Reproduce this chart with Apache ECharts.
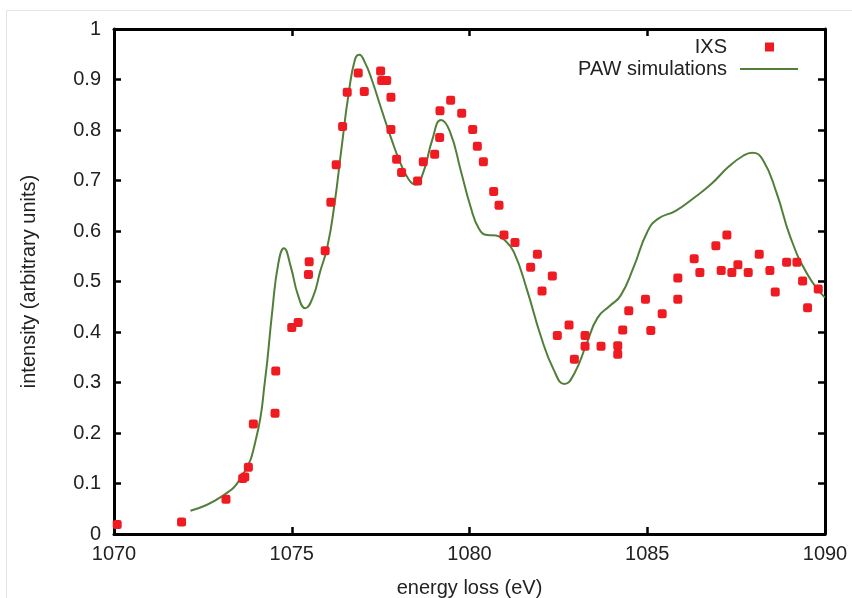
<!DOCTYPE html>
<html>
<head>
<meta charset="utf-8">
<script src="https://cdn.jsdelivr.net/npm/echarts@6/dist/echarts.min.js"></script>
<style>
  html, body { margin: 0; padding: 0; background: #fff; }
  #main { width: 852px; height: 598px; }
</style>
</head>
<body>
<div id="main"></div>
<script>
// measured IXS points (energy loss in eV, intensity)
var ixsEnergy = [1070.09, 1071.90, 1073.15, 1073.62, 1073.68, 1073.78, 1073.92, 1074.55, 1074.53, 1075.00,
    1075.18, 1075.47, 1075.49, 1075.94, 1076.10, 1076.25, 1076.43, 1076.56, 1076.87, 1077.04,
    1077.50, 1077.53, 1077.67, 1077.79, 1077.79, 1077.95, 1078.09, 1078.54, 1078.70, 1079.02,
    1079.16, 1079.17, 1079.47, 1079.78, 1080.09, 1080.22, 1080.39, 1080.68, 1080.83, 1080.97,
    1081.28, 1081.72, 1081.91, 1082.04, 1082.33, 1082.47, 1082.80, 1082.95, 1083.25, 1083.25,
    1083.70, 1084.17, 1084.17, 1084.31, 1084.48, 1084.95, 1085.10, 1085.42, 1085.86, 1085.86,
    1086.32, 1086.48, 1086.93, 1087.08, 1087.24, 1087.38, 1087.55, 1087.84, 1088.15, 1088.45,
    1088.60, 1088.92, 1089.21, 1089.37, 1089.51, 1089.81];
var ixsIntensity = [0.019, 0.024, 0.069, 0.110, 0.113, 0.132, 0.218, 0.323, 0.239, 0.409,
    0.419, 0.514, 0.539, 0.561, 0.657, 0.731, 0.807, 0.875, 0.913, 0.876,
    0.917, 0.898, 0.898, 0.865, 0.801, 0.742, 0.716, 0.699, 0.737, 0.752,
    0.785, 0.838, 0.859, 0.833, 0.801, 0.768, 0.737, 0.678, 0.651, 0.592,
    0.577, 0.528, 0.554, 0.481, 0.511, 0.393, 0.414, 0.346, 0.393, 0.372,
    0.372, 0.373, 0.356, 0.404, 0.442, 0.465, 0.403, 0.436, 0.465, 0.507,
    0.545, 0.518, 0.571, 0.522, 0.592, 0.518, 0.533, 0.518, 0.554, 0.522,
    0.479, 0.538, 0.538, 0.501, 0.448, 0.485];

// PAW simulated spectrum
var pawEnergy = [1072.15, 1073.0, 1073.6, 1074.0, 1074.25, 1074.45, 1074.62, 1074.78, 1074.97, 1075.18,
    1075.38, 1075.6, 1075.8, 1076.0, 1076.2, 1076.4, 1076.6, 1076.78, 1076.9,
    1077.05, 1077.25, 1077.5, 1077.78, 1078.06, 1078.3, 1078.48, 1078.7, 1078.95, 1079.2,
    1079.45, 1079.75, 1080.03, 1080.27, 1080.5, 1080.75, 1081.0, 1081.25, 1081.62, 1082.0,
    1082.37, 1082.67, 1082.95, 1083.3, 1083.6, 1083.95, 1084.25, 1084.62, 1085.0, 1085.3,
    1085.8, 1086.3, 1086.8, 1087.3, 1087.7, 1087.95, 1088.25, 1088.64, 1089.02, 1089.5, 1090];
var pawIntensity = [0.046, 0.073, 0.115, 0.19, 0.305, 0.44, 0.535, 0.566, 0.53, 0.472,
    0.447, 0.47, 0.52, 0.568, 0.652, 0.764, 0.872, 0.94, 0.949,
    0.935, 0.9, 0.846, 0.787, 0.734, 0.701, 0.692, 0.716, 0.78, 0.82,
    0.797, 0.721, 0.648, 0.604, 0.592, 0.591, 0.581, 0.558, 0.483, 0.393,
    0.325, 0.297, 0.318, 0.378, 0.428, 0.452, 0.472, 0.529, 0.598, 0.624,
    0.64, 0.665, 0.693, 0.728, 0.749, 0.755, 0.741, 0.675, 0.589, 0.515, 0.468];

var xTicks = { min: 1070, max: 1090, interval: 5 };
var yTicks = { min: 0, max: 1, interval: 0.1 };

var font = 'Liberation Sans, Arial, sans-serif';
var textColor = '#222';

var ixsData = ixsEnergy.map(function (e, i) { return [e, ixsIntensity[i]]; });
var pawData = pawEnergy.map(function (e, i) { return [e, pawIntensity[i]]; });

function frameAxis(extra) {
    var base = {
        axisLine: { show: true, onZero: false, lineStyle: { color: '#000', width: 3 } },
        axisTick: { show: true, inside: true, length: 7, lineStyle: { color: '#000', width: 2.5 } },
        splitLine: { show: false }
    };
    return Object.assign(base, extra);
}

var chart = echarts.init(document.getElementById('main'));

var option = {
    backgroundColor: '#fff',
    animation: false,
    textStyle: { fontFamily: font },
    grid: { left: 114, right: 27, top: 29, bottom: 64, containLabel: false, outerBoundsMode: 'none' },
    graphic: [{
        type: 'rect',
        shape: { x: 6.5, y: 10.5, width: 900, height: 700 },
        style: { fill: 'none', stroke: '#e4e4e4', lineWidth: 1 },
        silent: true
    }],
    legend: [{
        right: 52, top: 37, padding: 0, align: 'right', orient: 'vertical',
        itemWidth: 68, itemHeight: 9,
        textStyle: { fontSize: 20, color: textColor, fontFamily: font },
        data: [{ name: 'IXS', icon: 'path://M0,0L0,0M33,0h9v9h-9zM68,9L68,9', itemStyle: { borderWidth: 0 } }]
    }, {
        right: 52, top: 59, padding: 0, align: 'right', orient: 'vertical',
        itemWidth: 68, itemHeight: 9,
        textStyle: { fontSize: 20, color: textColor, fontFamily: font },
        data: [{ name: 'PAW simulations', icon: 'path://M0,0L0,0M8,3.6h58v1.9h-58zM68,9L68,9', itemStyle: { borderWidth: 0 } }]
    }],
    xAxis: [
        frameAxis({
            type: 'value', position: 'bottom',
            min: xTicks.min, max: xTicks.max, interval: xTicks.interval,
            name: 'energy loss (eV)', nameLocation: 'middle', nameGap: 44,
            nameTextStyle: { fontSize: 20, color: textColor, fontFamily: font },
            axisLabel: {
                fontSize: 20, color: textColor, margin: 10, fontFamily: font,
                formatter: function (v) { return String(v); }
            }
        }),
        frameAxis({
            type: 'value', position: 'top',
            min: xTicks.min, max: xTicks.max, interval: xTicks.interval,
            axisLabel: { show: false }
        })
    ],
    yAxis: [
        frameAxis({
            type: 'value', position: 'left',
            min: yTicks.min, max: yTicks.max, interval: yTicks.interval,
            name: 'intensity (arbitrary units)', nameLocation: 'middle', nameGap: 75,
            nameTextStyle: { fontSize: 20, color: textColor, fontFamily: font },
            axisLabel: { fontSize: 20, color: textColor, margin: 13, fontFamily: font }
        }),
        frameAxis({
            type: 'value', position: 'right',
            min: yTicks.min, max: yTicks.max, interval: yTicks.interval,
            axisLabel: { show: false }
        })
    ],
    series: [{
        name: 'IXS',
        type: 'scatter',
        data: ixsData,
        symbol: 'roundRect',
        symbolSize: 9,
        itemStyle: { color: '#ee1b22', opacity: 1 },
        z: 3
    }, {
        name: 'PAW simulations',
        type: 'line',
        data: pawData,
        showSymbol: false,
        symbol: 'none',
        smooth: 0.5,
        lineStyle: { color: '#517f3a', width: 2 },
        itemStyle: { color: '#517f3a' },
        z: 2
    }]
};

chart.setOption(option);
</script>
</body>
</html>
